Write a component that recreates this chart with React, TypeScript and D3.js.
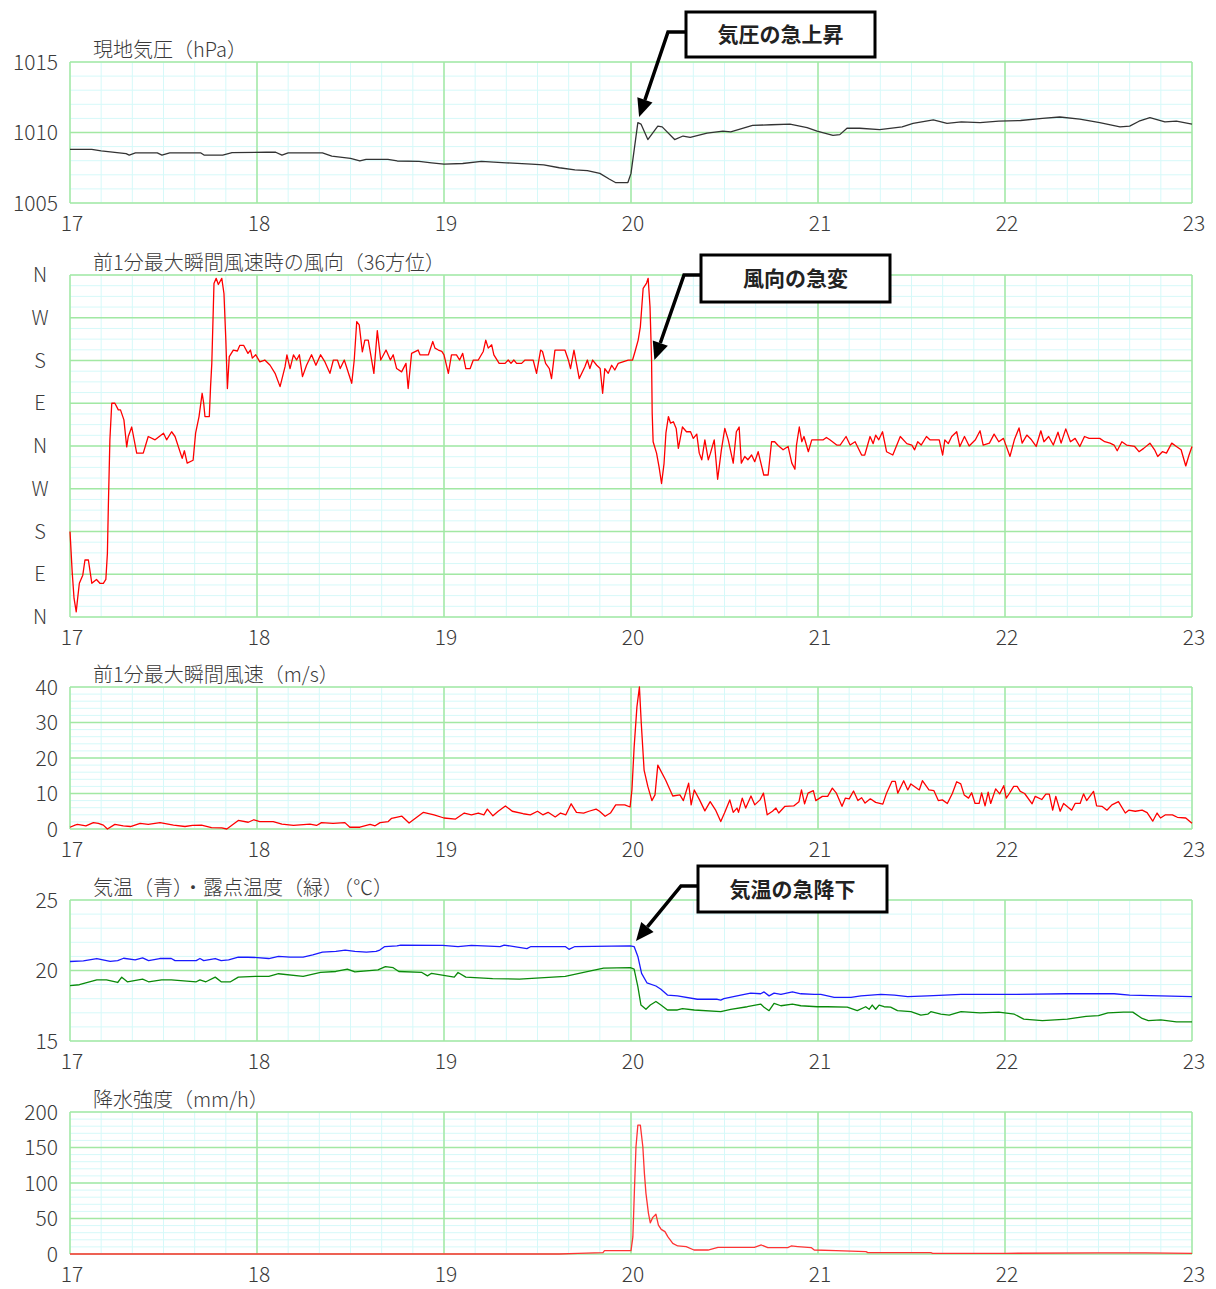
import React from 'react'
import * as d3 from 'd3'

// minutes after 17:00, value
const hourLabels = ['17', '18', '19', '20', '21', '22', '23']
const dirLabels = ['N', 'E', 'S', 'W', 'N', 'E', 'S', 'W', 'N']

const pressureData = [
  [0, 1008.8], [7, 1008.8], [10, 1008.7], [18, 1008.5], [19, 1008.4], [21, 1008.55], [28, 1008.55],
  [29.5, 1008.4], [32, 1008.55], [42, 1008.55], [43, 1008.4], [49, 1008.4], [52, 1008.57], [63, 1008.6],
  [66, 1008.6], [68, 1008.4], [70, 1008.55], [81, 1008.55], [84, 1008.33], [90, 1008.17], [93, 1007.98],
  [95, 1008.1], [102, 1008.1], [105, 1007.98], [112, 1007.95], [116, 1007.85], [120, 1007.75], [126, 1007.8],
  [132, 1007.95], [140, 1007.85], [148, 1007.75], [152, 1007.7], [157, 1007.5], [162, 1007.35], [166, 1007.3],
  [170, 1007.1], [173, 1006.7], [175, 1006.45], [179, 1006.45], [180, 1007.1], [182.2, 1010.7], [183.2, 1010.6],
  [185.4, 1009.5], [188.6, 1010.45], [190, 1010.4], [194, 1009.5], [196.7, 1009.75], [199, 1009.65],
  [204.4, 1009.95], [209.5, 1010.1], [212, 1010.05], [219, 1010.5], [225, 1010.55], [231, 1010.6],
  [236.5, 1010.35], [239.7, 1010.1], [244.8, 1009.8], [247, 1009.85], [249.3, 1010.3], [253.4, 1010.3],
  [259.8, 1010.2], [267, 1010.4], [270.5, 1010.65], [277, 1010.9], [281.4, 1010.65], [286, 1010.75],
  [292, 1010.7], [298, 1010.8], [305, 1010.85], [312, 1011.0], [317.6, 1011.1], [324, 1010.95],
  [330.4, 1010.7], [336.9, 1010.4], [340, 1010.45], [343, 1010.8], [346.5, 1011.05], [351.3, 1010.75],
  [355, 1010.8], [360, 1010.6],
]

// degrees, 0..720 (two turns stacked: N E S W N E S W N)
const windDirData = [
  [0, 180], [0.7, 95], [1.3, 39], [2, 11], [2.4, 36], [3, 71], [4.1, 88], [4.8, 120], [5.9, 120], [7, 71],
  [8.5, 79], [9.6, 71], [10.7, 71], [11.5, 79], [12, 134], [12.3, 232], [12.8, 373], [13.4, 450], [14.4, 450],
  [15.5, 436], [16.2, 436], [17.3, 415], [18.2, 358], [18.7, 380], [19.8, 400], [21.4, 345], [23.5, 345],
  [25.1, 380], [27.3, 373], [30, 387], [31, 373], [32.6, 390], [33.7, 380], [36, 334], [36.7, 350],
  [37.6, 324], [39.5, 330], [40.3, 387], [41.4, 422], [42.4, 471], [42.9, 450], [43.3, 422], [44.7, 422],
  [45.1, 485], [45.5, 534], [46.2, 702], [46.9, 713], [47.6, 700], [48.7, 713], [49.4, 681], [50, 583],
  [50.5, 481], [51.1, 548], [52.4, 562], [53.7, 560], [54.5, 572], [55.7, 572], [57.1, 555], [57.9, 562],
  [58.5, 545], [59.6, 552], [60.9, 537], [62.5, 541], [64.2, 530], [65.8, 513], [67.4, 485], [69, 527],
  [69.6, 552], [70.6, 523], [71.7, 552], [72.7, 541], [73.6, 552], [74.6, 506], [75.9, 530], [77.5, 552],
  [78.9, 530], [80.4, 552], [81.8, 537], [83.4, 513], [84.5, 541], [85.8, 541], [86.7, 523], [88, 541],
  [90.4, 492], [91.2, 541], [92, 622], [92.8, 615], [93.8, 558], [94.6, 583], [95.7, 583], [97.5, 513],
  [98.6, 603], [99.7, 541], [101.4, 562], [102.8, 541], [103.7, 552], [104.8, 523], [106.4, 516],
  [107.8, 534], [108.5, 481], [109.6, 555], [111.7, 562], [112.3, 552], [113.3, 552], [115, 552],
  [116.4, 580], [117.1, 566], [118.2, 562], [119.3, 559], [120, 552], [121.4, 513], [122.4, 552], [124, 552],
  [125, 541], [126, 555], [127, 523], [128.4, 523], [129.4, 541], [131, 541], [132.6, 559], [133.4, 583],
  [134.2, 566], [135.3, 573], [136, 552], [137.7, 534], [139.6, 534], [140.6, 541], [141.5, 534],
  [142.4, 541], [143.3, 534], [144.9, 534], [146, 541], [148.6, 541], [149.7, 513], [151, 562], [151.6, 559],
  [152.6, 534], [153.8, 523], [154.5, 502], [155.6, 562], [157.2, 562], [158.8, 562], [159.9, 541],
  [160.6, 523], [161.7, 562], [163.4, 502], [165.2, 527], [166, 541], [166.8, 523], [167.7, 541], [169, 530],
  [170.1, 523], [170.9, 471], [171.6, 523], [172.7, 513], [173.8, 530], [174.8, 520], [175.9, 534],
  [179.1, 541], [180.5, 541], [181.3, 559], [182.3, 583], [183, 611], [183.9, 692], [185, 703], [185.5, 713],
  [186.1, 653], [186.6, 541], [186.8, 429], [187.1, 369], [188.2, 345], [189, 316], [189.8, 281],
  [190.6, 323], [191.2, 387], [192, 422], [192.7, 408], [193.6, 411], [194.5, 397], [195.2, 355],
  [196.5, 400], [197.8, 390], [199.1, 390], [200, 376], [201.1, 385], [201.9, 345], [202.7, 331],
  [203.7, 373], [204.8, 331], [205.5, 345], [206.7, 373], [207.8, 290], [209, 352], [210.1, 397],
  [211.2, 373], [212.8, 324], [213.8, 390], [214.7, 400], [215.4, 324], [216.5, 338], [217.5, 331],
  [218.7, 341], [219.7, 327], [220.8, 348], [222.6, 299], [224, 299], [225.1, 369], [226.1, 369],
  [227.2, 361], [228.8, 352], [230.4, 359], [231.6, 324], [232.6, 311], [233.1, 362], [234, 400],
  [234.8, 369], [235.5, 380], [236.9, 348], [238, 373], [239.8, 373], [241.7, 373], [242.7, 378],
  [243.8, 373], [246, 362], [247.1, 362], [249, 380], [250.3, 362], [251.9, 369], [254, 341], [255, 341],
  [256.7, 380], [257.7, 365], [258.5, 383], [259.5, 373], [260.7, 390], [262, 348], [264, 341], [266.4, 380],
  [268.5, 365], [270.1, 362], [271, 352], [272, 369], [273.1, 362], [274.8, 380], [275.9, 373],
  [278.9, 373], [280, 341], [280.7, 373], [281.8, 365], [282.9, 380], [284.5, 390], [285.5, 359],
  [287, 380], [288.5, 360], [290.5, 373], [292, 392], [293, 362], [295, 366], [296.5, 385], [298, 369],
  [299.5, 376], [301.6, 338], [303, 373], [304.5, 398], [305.5, 366], [307, 383], [308.5, 373],
  [310, 359], [311.5, 392], [312.5, 369], [314, 380], [315.5, 362], [317, 389], [318, 366], [319.5, 396],
  [321, 369], [322.5, 376], [324, 359], [325.5, 380], [327, 376], [330.4, 376], [332, 369], [333.7, 366],
  [335, 362], [336, 350], [337.5, 369], [339, 362], [341.6, 359], [343, 348], [344.5, 355], [346.5, 366],
  [348, 352], [349, 338], [350.5, 348], [351.8, 345], [353.5, 366], [355, 359], [356.5, 352], [358, 318],
  [359, 340], [360, 359],
]

const windSpeedData = [
  [0, 0.5], [1.6, 1.1], [2.4, 1.3], [5.1, 0.9], [7.5, 1.8], [9.1, 1.6], [10.7, 1.1], [12, 0], [14.4, 1.3],
  [17.1, 0.9], [19.4, 0.7], [22.5, 1.6], [25.1, 1.3], [28.9, 1.8], [33.2, 1.1], [36.9, 0.7], [39.3, 1.0],
  [42.2, 1.1], [45.4, 0.4], [48.7, 0.3], [50.3, 0], [54, 2.4], [57.2, 1.9], [59, 2.6], [60.9, 2.1],
  [65.2, 2.1], [68, 1.4], [71.7, 1.0], [77, 1.4], [79.1, 1.0], [80.7, 1.8], [84.4, 1.6], [88.2, 1.8],
  [89.8, 0.5], [93, 0.5], [96.3, 1.3], [97.9, 0.9], [99.5, 1.8], [102.1, 2.1], [103.2, 3.0], [106.5, 3.6],
  [108.8, 1.7], [113.4, 4.7], [116.8, 4.0], [120, 3.1], [123.7, 2.8], [126.5, 4.5], [128.8, 4.0],
  [131, 4.5], [132.8, 4.0], [133.9, 5.6], [135.7, 3.7], [137.4, 5.0], [139.7, 6.5], [141.9, 5.0],
  [145.4, 4.3], [147.7, 4.0], [150, 5.0], [151.7, 4.0], [153.4, 4.7], [155.7, 3.4], [157.4, 4.5],
  [159.1, 4.0], [160.8, 7.1], [162.5, 4.7], [164.8, 4.5], [166.5, 5.0], [168.8, 5.6], [169.9, 5.0],
  [171.7, 3.6], [173.4, 4.5], [175.1, 6.8], [178, 6.8], [179.7, 6.2], [180.3, 11], [181, 23], [181.9, 34.4],
  [182.7, 40], [183.3, 29.7], [184.2, 16.6], [185.4, 12], [186.7, 8.0], [187.7, 9.6], [188.6, 18],
  [191.1, 13.8], [193.4, 9.3], [195.7, 9.6], [196.8, 8], [198.5, 12.9], [199.3, 6.8], [200.3, 11],
  [202, 8.2], [203.7, 5.1], [205.4, 7.7], [207.1, 5.4], [208.8, 2.1], [210, 4.5], [211.7, 8.2],
  [212.8, 4.7], [214, 5.9], [214.5, 4.7], [215.7, 8.7], [216.8, 5.9], [218.5, 9.3], [219.7, 6.8],
  [221.4, 8.2], [222.5, 10.1], [223.7, 4.0], [225.4, 5.0], [226.5, 5.9], [227.4, 4.5], [229.4, 6.4],
  [232.2, 6.5], [233.9, 7.7], [234.7, 11], [235.7, 7.1], [236.8, 10.1], [238.5, 10.8], [239.3, 8],
  [241.4, 9.2], [243.1, 9.2], [244.6, 11.5], [245.9, 10.1], [247.7, 6.4], [248.8, 8.7], [250, 8.5],
  [251.4, 10.7], [252.8, 8], [254, 8.8], [255.1, 7.3], [256.8, 8.5], [258.5, 7.5], [260.8, 7.0],
  [262, 10.1], [263.7, 13.4], [264.8, 13.4], [265.6, 10.1], [267.5, 13.6], [268.8, 11], [269.8, 12.7],
  [272.5, 11], [273.5, 13.6], [275.6, 11], [277.2, 10.8], [278.6, 8.0], [279.9, 8.2], [281.5, 7.2],
  [283.1, 10.0], [284.5, 13.3], [285.8, 12.7], [286.9, 9.6], [288.3, 8.7], [289.3, 10.2], [290.4, 7.2],
  [291.7, 7.2], [292.5, 10.2], [293.6, 6.5], [294.6, 10.4], [295.4, 7.2], [297, 11.3], [298.3, 9.9],
  [299.6, 12.2], [300.4, 8.7], [301.4, 10], [302.8, 12], [303.9, 12], [304.9, 10.6], [306.3, 10.0],
  [308.7, 7.1], [309.7, 9.2], [311.8, 8.3], [313.1, 9.8], [314.2, 9.8], [315.3, 5.3], [316.3, 9.2],
  [317.7, 5.0], [318.8, 7.2], [321.4, 5.3], [322.5, 7.2], [324.1, 7.2], [325.2, 9.9], [326.2, 8],
  [328.4, 10.6], [329.4, 6.5], [331.1, 6.4], [332.7, 5.3], [334.3, 6.8], [336.4, 7.7], [338.6, 4.5],
  [339.7, 5.3], [341.8, 5.0], [344, 5.3], [345.6, 4.6], [347.4, 2.2], [348.8, 4.5], [349.9, 3.1],
  [351.5, 4.0], [353.7, 4.0], [355.3, 3.3], [358, 3.1], [359.6, 1.9], [360, 1.6],
]

const tempData = [
  [0, 20.64], [4.3, 20.68], [8.6, 20.85], [12.9, 20.64], [15.3, 20.7], [17.2, 20.87], [20.9, 20.75],
  [23.3, 20.9], [25.2, 20.7], [28.8, 20.85], [32.5, 20.85], [33.7, 20.7], [40.5, 20.7], [41.7, 20.85],
  [42.9, 20.7], [46.6, 20.85], [48.5, 20.7], [50.9, 20.75], [54, 20.94], [57, 20.94], [60.1, 20.92],
  [63.8, 20.85], [66.9, 21.0], [70.6, 20.95], [74.8, 20.95], [77.9, 21.1], [81, 21.3], [85.3, 21.35],
  [88.3, 21.44], [91.4, 21.35], [95.1, 21.3], [98.2, 21.35], [99.4, 21.45], [101, 21.7], [104.9, 21.75],
  [106.1, 21.8], [119.6, 21.78], [124.5, 21.7], [128.8, 21.78], [138, 21.7], [139.3, 21.8], [146.6, 21.55],
  [147.9, 21.7], [158.9, 21.7], [160.1, 21.5], [162, 21.7], [179.8, 21.75], [181, 21.7], [182.2, 21.0],
  [183.4, 19.8], [185.1, 19.13], [188, 18.9], [189.6, 18.67], [191.7, 18.26], [194.9, 18.2], [201.3, 17.96],
  [207.7, 17.96], [208.8, 17.9], [209.8, 18.0], [215.2, 18.26], [218.4, 18.4], [221.6, 18.35],
  [222.7, 18.48], [224.3, 18.2], [225.9, 18.4], [228.1, 18.3], [231.8, 18.48], [234.5, 18.35],
  [238.8, 18.3], [240.9, 18.3], [245.2, 18.1], [250.6, 18.1], [253.8, 18.2], [260.2, 18.3], [264.5, 18.25],
  [268.8, 18.15], [275.2, 18.2], [280.6, 18.25], [285.9, 18.3], [300, 18.3], [320, 18.35], [335, 18.35],
  [340, 18.25], [350, 18.2], [360, 18.15],
]

const dewData = [
  [0, 18.92], [3, 18.99], [8.6, 19.34], [11.7, 19.34], [15.3, 19.15], [16.6, 19.53], [18.4, 19.2],
  [23.3, 19.39], [25.2, 19.2], [29.4, 19.34], [32.5, 19.34], [40.5, 19.2], [41.7, 19.34], [43.6, 19.2],
  [46.6, 19.53], [48.5, 19.2], [51.5, 19.2], [54, 19.53], [59.5, 19.58], [63.8, 19.58], [66.9, 19.77],
  [74.8, 19.58], [80.4, 19.86], [85.3, 19.93], [89, 20.1], [91.4, 19.9], [95.1, 19.98], [98.8, 20.05],
  [101.2, 20.28], [103.7, 20.2], [105.5, 19.93], [112.9, 19.86], [114.7, 19.62], [116, 19.8],
  [123.3, 19.53], [124.5, 19.86], [127, 19.53], [135.6, 19.43], [144.2, 19.39], [158.9, 19.58],
  [166.3, 19.93], [171.2, 20.17], [179.8, 20.2], [181, 20.1], [182.2, 18.85], [183.2, 17.55],
  [184.8, 17.25], [186.2, 17.55], [188, 17.8], [189.6, 17.55], [191.7, 17.2], [194.9, 17.2],
  [196.5, 17.3], [200.3, 17.2], [208.8, 17.08], [212, 17.25], [217.3, 17.43], [221.6, 17.62],
  [222.7, 17.4], [224.3, 17.15], [225.9, 17.67], [228.1, 17.5], [231.8, 17.62], [234.5, 17.5],
  [239.8, 17.43], [243, 17.43], [249.4, 17.4], [252.6, 17.15], [255.3, 17.43], [256.4, 17.25],
  [257.4, 17.55], [258.5, 17.25], [259.6, 17.55], [261.2, 17.43], [263.3, 17.4], [265.5, 17.15],
  [269.8, 17.08], [273, 16.84], [275.2, 16.9], [276.2, 17.08], [279.4, 16.9], [282.1, 16.84],
  [283.7, 16.95], [285.9, 17.08], [292, 17.0], [298, 17.05], [303, 16.9], [306, 16.55], [312, 16.45],
  [320, 16.55], [326, 16.75], [330, 16.8], [333, 17.0], [338, 17.05], [341, 17.05], [344, 16.6],
  [346, 16.45], [350, 16.5], [355, 16.35], [360, 16.35],
]

const rainData = [
  [0, 0], [157, 0], [163, 1], [171, 2], [171.5, 4.7], [180, 4.7], [180.6, 24], [181.1, 90], [181.6, 151],
  [182.2, 181.5], [183, 181.5], [183.8, 151], [184.3, 113.6], [184.8, 85.4], [185.6, 57.3], [186.2, 44],
  [187, 51.6], [188, 56], [188.8, 40.8], [189.7, 34.7], [190.9, 31.5], [191.8, 24.4], [193.4, 15],
  [195, 11.3], [197.7, 10.3], [200.2, 5.6], [204.7, 5.6], [207.9, 9.4], [219.6, 9.4], [221.8, 12.7],
  [223.9, 9], [230.3, 9], [231.4, 11.3], [233.5, 10.5], [237.8, 9], [238.8, 5.6], [245.8, 4.7],
  [255.4, 3.3], [256, 2], [276.2, 2], [276.8, 1], [300, 1], [330, 1.5], [345, 1.5], [360, 1],
]

const X0 = 70
const X1 = 1192
const x = d3.scaleLinear().domain([0, 360]).range([X0, X1])

const FONT = "'Noto Sans CJK JP', 'Noto Sans', sans-serif"
const MAJOR = '#a3e8a3'
const MINOR = '#d6f9f9'
const TXT = '#3a3a3a'

const panels = [
  {
    title: '現地気圧（hPa）', top: 62, bottom: 203, domain: [1005, 1015], major: 5, minor: 1,
    series: [{ data: pressureData, color: '#333333' }],
  },
  {
    title: '前1分最大瞬間風速時の風向（36方位）', top: 275, bottom: 617, domain: [0, 720], major: 90, minor: 22.5,
    labels: dirLabels,
    series: [{ data: windDirData, color: '#ff0000' }],
  },
  {
    title: '前1分最大瞬間風速（m/s）', top: 687, bottom: 829, domain: [0, 40], major: 10, minor: 2,
    series: [{ data: windSpeedData, color: '#ff0000' }],
  },
  {
    title: '気温（青）・露点温度（緑）（℃）', top: 900, bottom: 1041, domain: [15, 25], major: 5, minor: 1,
    series: [{ data: dewData, color: '#0a8a0a' }, { data: tempData, color: '#1a1aff' }],
  },
  {
    title: '降水強度（mm/h）', top: 1112, bottom: 1254, domain: [0, 200], major: 50, minor: 10,
    series: [{ data: rainData, color: '#ff3333' }],
  },
]

const notes = [
  { panel: 0, text: '気圧の急上昇', box: [686, 12, 189, 45], elbow: [668, 32], at: [182.6, 1011.1] },
  { panel: 1, text: '風向の急変', box: [701, 255, 189, 47], elbow: [684, 275], at: [187.5, 541] },
  { panel: 3, text: '気温の急降下', box: [698, 866, 189, 46], elbow: [681, 886], at: [181.6, 22.1] },
]

function Panel({ p }: { p: any }) {
  const y = d3.scaleLinear().domain(p.domain).range([p.bottom, p.top])
  const minorY = d3.range(p.domain[0], p.domain[1] + 1e-6, p.minor)
  const majorY = d3.range(p.domain[0], p.domain[1] + 1e-6, p.major)
  const minorX = d3.range(0, 361, 10)
  const majorX = d3.range(0, 361, 60)
  const line = d3.line<number[]>().x(d => x(d[0])).y(d => y(d[1]))
  return (
    <g>
      {minorY.map((v, i) => (
        <line key={'my' + i} x1={X0} x2={X1} y1={y(v)} y2={y(v)} stroke={MINOR} strokeWidth={1} />
      ))}
      {minorX.map((m, i) => (
        <line key={'mx' + i} x1={x(m)} x2={x(m)} y1={p.top} y2={p.bottom} stroke={MINOR} strokeWidth={1} />
      ))}
      {majorY.map((v, i) => (
        <line key={'My' + i} x1={X0} x2={X1} y1={y(v)} y2={y(v)} stroke={MAJOR} strokeWidth={1.5} />
      ))}
      {majorX.map((m, i) => (
        <line key={'Mx' + i} x1={x(m)} x2={x(m)} y1={p.top} y2={p.bottom} stroke={MAJOR} strokeWidth={1.5} />
      ))}
      {p.series.map((s: any, i: number) => (
        <path key={'s' + i} d={line(s.data) || ''} fill="none" stroke={s.color} strokeWidth={1.3} strokeLinejoin="round" />
      ))}
      {majorY.map((v, i) => (
        <text key={'yl' + i} x={p.labels ? 40 : 58} y={y(v)} dy="0.36em" textAnchor={p.labels ? 'middle' : 'end'}
          fontSize={p.labels ? 20 : 21} fontWeight={300} fill={TXT} fontFamily={FONT}>
          {p.labels ? p.labels[i] : String(v)}
        </text>
      ))}
      {majorX.map((m, i) => (
        <text key={'xl' + i} x={x(m) + 2} y={p.bottom + 28} textAnchor="middle" fontSize={21} fontWeight={300}
          fill={TXT} fontFamily={FONT}>
          {hourLabels[i]}
        </text>
      ))}
      <text x={93} y={p.top - 5} fontSize={20} fontWeight={300} fill={TXT} fontFamily={FONT}>{p.title}</text>
    </g>
  )
}

export default function App() {
  return (
    <svg width={1216} height={1289} style={{ position: 'absolute', left: 0, top: 0, background: '#fff' }}>
      <rect width={1216} height={1289} fill="#fff" />
      {panels.map((p, i) => <Panel key={i} p={p} />)}
      {notes.map((n, i) => {
        const p = panels[n.panel]
        const y = d3.scaleLinear().domain(p.domain).range([p.bottom, p.top])
        const tx = x(n.at[0])
        const ty = y(n.at[1])
        const [bx, by, bw, bh] = n.box
        const [ex, ey] = n.elbow
        const ang = Math.atan2(ty - ey, tx - ex)
        const len = 18
        const hw = 8
        const baseX = tx - len * Math.cos(ang)
        const baseY = ty - len * Math.sin(ang)
        const px = -Math.sin(ang) * hw
        const py = Math.cos(ang) * hw
        return (
          <g key={'n' + i}>
            <polyline points={`${bx},${ey} ${ex},${ey} ${baseX},${baseY}`} fill="none" stroke="#000" strokeWidth={3.5} />
            <polygon points={`${tx},${ty} ${baseX + px},${baseY + py} ${baseX - px},${baseY - py}`} fill="#000" />
            <rect x={bx} y={by} width={bw} height={bh} fill="#fff" stroke="#000" strokeWidth={3} />
            <text x={bx + bw / 2} y={by + bh / 2} dy="0.36em" textAnchor="middle" fontSize={21} fontWeight={700}
              fill="#222" fontFamily={FONT}>{n.text}</text>
          </g>
        )
      })}
    </svg>
  )
}
